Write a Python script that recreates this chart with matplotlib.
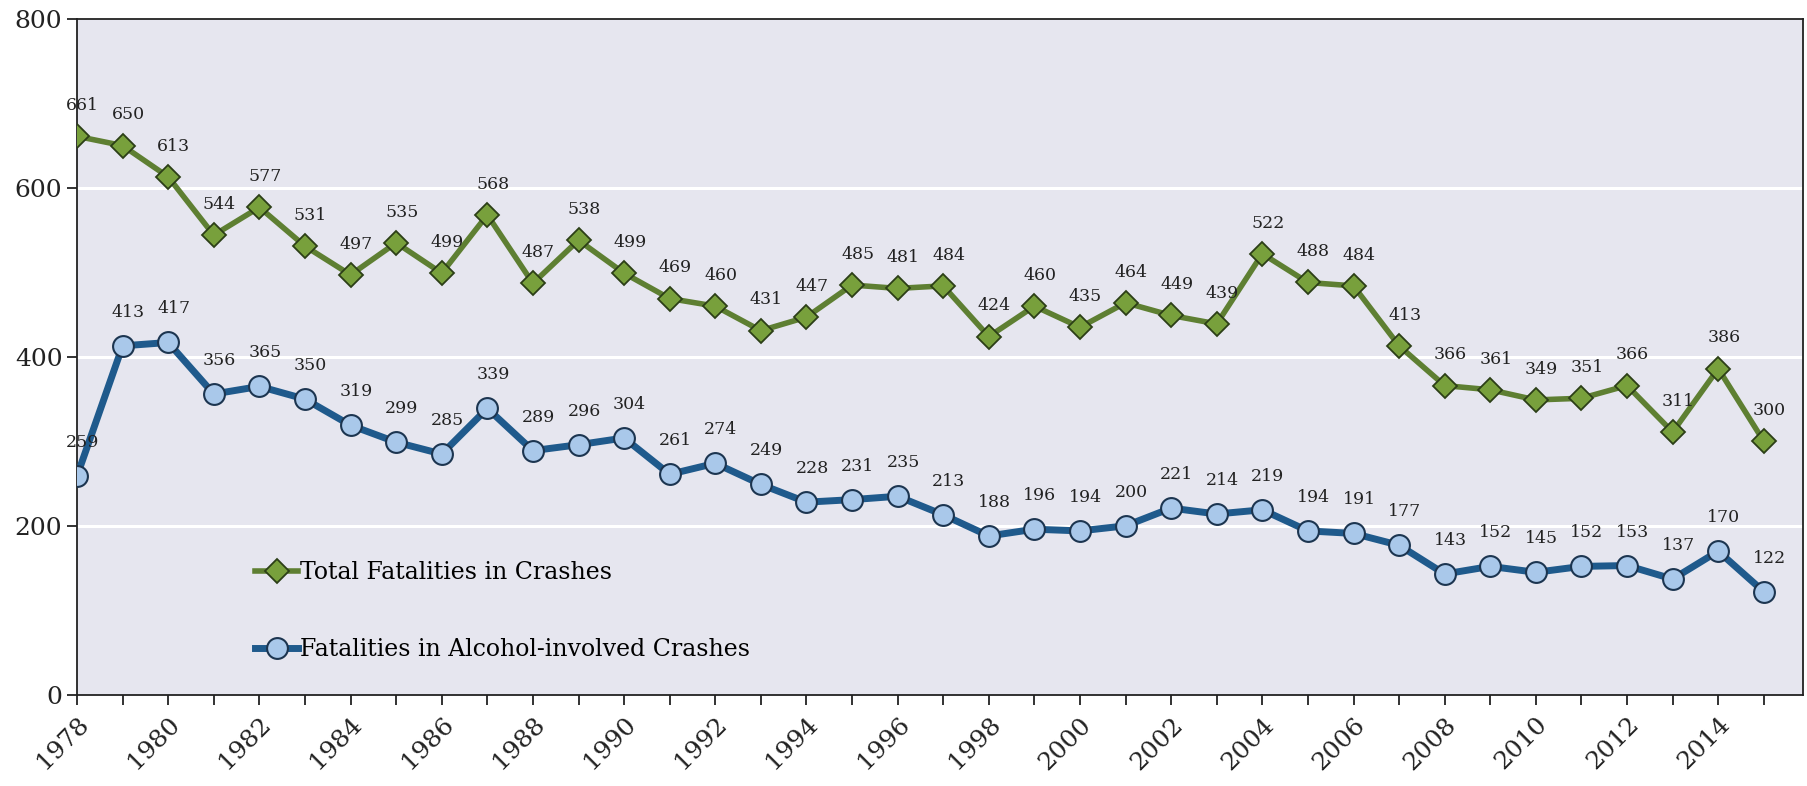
import matplotlib
matplotlib.use("Agg")
import matplotlib.pyplot as plt

years = list(range(1978, 2016))
total = [661, 650, 613, 544, 577, 531, 497, 535, 499, 568, 487, 538, 499, 469,
         460, 431, 447, 485, 481, 484, 424, 460, 435, 464, 449, 439, 522, 488,
         484, 413, 366, 361, 349, 351, 366, 311, 386, 300]
alcohol = [259, 413, 417, 356, 365, 350, 319, 299, 285, 339, 289, 296, 304, 261,
           274, 249, 228, 231, 235, 213, 188, 196, 194, 200, 221, 214, 219, 194,
           191, 177, 143, 152, 145, 152, 153, 137, 170, 122]
label_total = "Total Fatalities in Crashes"
label_alcohol = "Fatalities in Alcohol-involved Crashes"
yticks = [0, 200, 400, 600, 800]

plt.rcParams['font.family'] = ['DejaVu Serif']

fig = plt.figure(figsize=(18.08, 7.86), dpi=100)
ax = fig.add_axes([0.0426, 0.116, 0.9544, 0.86])
ax.set_facecolor('#e6e6ef')

for y in yticks[1:-1]:
    ax.axhline(y, color='white', lw=2.2, zorder=1)

ax.plot(years, total, color='#5e7f32', lw=4, marker='D', markersize=12,
        markerfacecolor='#78a03c', markeredgecolor='#2c3f17', markeredgewidth=1.3,
        label=label_total, zorder=3)
ax.plot(years, alcohol, color='#1f5a8c', lw=5, marker='o', markersize=15,
        markerfacecolor='#a9c8ea', markeredgecolor='#1c3550', markeredgewidth=1.5,
        label=label_alcohol, zorder=3)

for x, v in zip(years, total):
    ax.annotate(str(v), (x, v), xytext=(4, 16), textcoords='offset points',
                ha='center', va='bottom', fontsize=12.5, color='#222222', zorder=4)
for x, v in zip(years, alcohol):
    ax.annotate(str(v), (x, v), xytext=(4, 18), textcoords='offset points',
                ha='center', va='bottom', fontsize=12.5, color='#222222', zorder=4)

ax.set_xlim(1978, 2015.85)
ax.set_ylim(0, 800)
ax.set_yticks(yticks)
ax.set_xticks(years)
ax.set_xticklabels([str(y) if (y - 1978) % 2 == 0 else '' for y in years],
                   rotation=45, ha='right', rotation_mode='anchor')
ax.tick_params(axis='both', labelsize=18, length=7, width=1.3, direction='out', colors='#222222')
ax.tick_params(axis='x', pad=6)
for s in ax.spines.values():
    s.set_color('#222222')
    s.set_linewidth(1.3)

leg = ax.legend(loc='lower left', bbox_to_anchor=(0.091, 0.018), frameon=False,
                fontsize=17, labelspacing=2.3, handlelength=1.8, handletextpad=0.1)

fig.savefig('out.png', dpi=100)
